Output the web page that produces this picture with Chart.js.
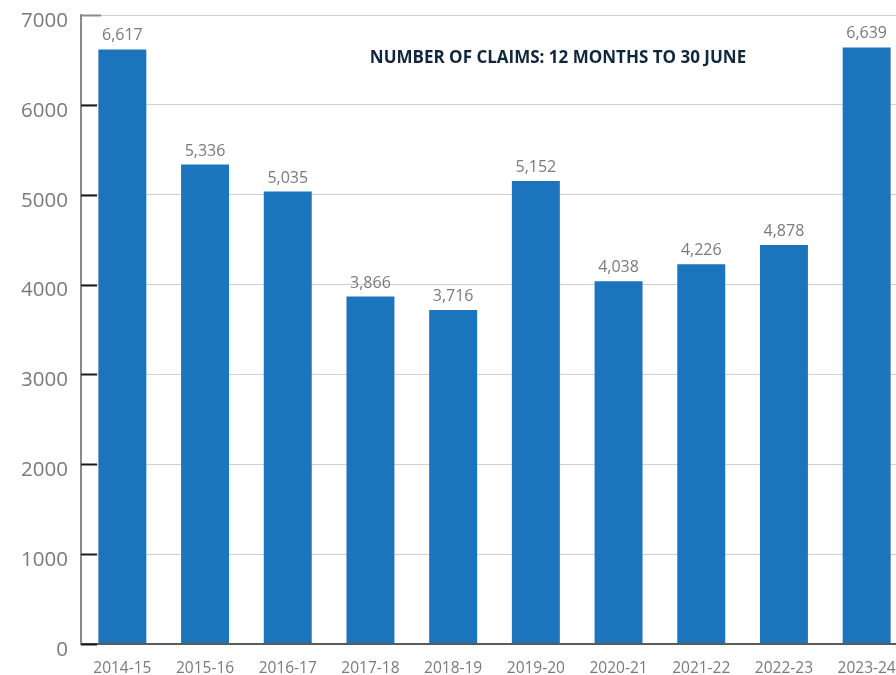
<!DOCTYPE html>
<html>
<head>
<meta charset="utf-8">
<script src="https://cdn.jsdelivr.net/npm/chart.js@4.4.1/dist/chart.umd.min.js"></script>
<style>
  html, body { margin: 0; padding: 0; background: #fff; overflow: hidden; }
  #wrap { position: relative; width: 908px; height: 675px; }
  #title {
    position: absolute; left: 350px; top: 45px; width: 416px;
    font: bold 17px 'Open Sans', sans-serif; color: #10263d;
    text-align: center; white-space: nowrap;
  }
</style>
</head>
<body>
<div id="wrap">
  <canvas id="claims" width="908" height="675"></canvas>
  <div id="title">NUMBER OF CLAIMS: 12 MONTHS TO 30 JUNE</div>
</div>
<script>
// financial years
const years = ['2014-15','2015-16','2016-17','2017-18','2018-19','2019-20','2020-21','2021-22','2022-23','2023-24'];
// bar heights as drawn (2022-23 bar is drawn lower than its label)
const claims = [6617, 5336, 5035, 3866, 3716, 5152, 4038, 4226, 4440, 6639];
// printed value labels
const claimLabels = ['6,617','5,336','5,035','3,866','3,716','5,152','4,038','4,226','4,878','6,639'];
const yTicks = [0, 1000, 2000, 3000, 4000, 5000, 6000, 7000];

// value labels above each bar
const valueLabels = {
  id: 'valueLabels',
  afterDatasetsDraw(chart) {
    const ctx = chart.ctx;
    const meta = chart.getDatasetMeta(0);
    ctx.save();
    ctx.font = '16px "Open Sans", sans-serif';
    ctx.fillStyle = '#7a7a7a';
    ctx.textAlign = 'center';
    ctx.textBaseline = 'alphabetic';
    meta.data.forEach((bar, i) => {
      ctx.fillText(claimLabels[i], bar.x, bar.y - 9);
    });
    ctx.restore();
  }
};

// short dark tick marks just inside the y axis
const innerTicks = {
  id: 'innerTicks',
  afterDatasetsDraw(chart) {
    const ctx = chart.ctx, y = chart.scales.y, left = chart.chartArea.left;
    ctx.save();
    yTicks.forEach(v => {
      const py = Math.round(y.getPixelForValue(v)) + 0.5;
      ctx.beginPath();
      ctx.strokeStyle = v === 7000 ? '#8a8a8a' : '#1a1a1a';
      ctx.lineWidth = 2;
      ctx.moveTo(left, py);
      ctx.lineTo(left + (v === 7000 ? 20 : 16), py);
      ctx.stroke();
    });
    ctx.restore();
  }
};

new Chart(document.getElementById('claims'), {
  type: 'bar',
  data: {
    labels: years,
    datasets: [{
      data: claims,
      backgroundColor: '#1c75bc',
      borderWidth: 0,
      barPercentage: 0.58,
      categoryPercentage: 1
    }]
  },
  options: {
    responsive: false,
    animation: false,
    layout: { padding: { top: 15, left: 0, right: 0, bottom: 0 } },
    plugins: { legend: { display: false }, tooltip: { enabled: false } },
    scales: {
      x: {
        grid: { display: false, drawTicks: false },
        border: { display: false },
        ticks: { color: '#7a7a7a', font: { family: 'Open Sans', size: 15.5 }, padding: 15, maxRotation: 0 },
        afterFit: s => { s.height = 31; s.paddingLeft = 0; s.paddingRight = 0; }
      },
      y: {
        min: 0, max: 7000,
        afterBuildTicks: s => { s.ticks = yTicks.map(v => ({ value: v })); },
        grid: {
          drawTicks: false,
          color: c => c.tick && c.tick.value === 0 ? '#5a5a5a' : '#cfcfcf',
          lineWidth: c => c.tick && c.tick.value === 0 ? 2 : 1
        },
        border: { display: true, color: '#8a8a8a', width: 2 },
        ticks: {
          color: '#7a7a7a', font: { family: 'Open Sans', size: 20.5 }, padding: 13, labelOffset: 6,
          callback: v => String(v)
        },
        afterFit: s => { s.width = 81; s.paddingTop = 0; s.paddingBottom = 0; }
      }
    }
  },
  plugins: [valueLabels, innerTicks]
});
</script>
</body>
</html>
